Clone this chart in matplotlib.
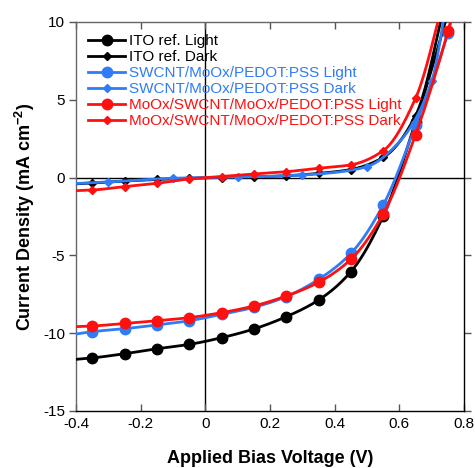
import numpy as np
import matplotlib
matplotlib.use("Agg")
import matplotlib.pyplot as plt

plt.rcParams['font.family'] = ['Liberation Sans', 'DejaVu Sans']
plt.rcParams['mathtext.fontset'] = 'custom'
plt.rcParams['mathtext.rm'] = 'Liberation Sans'
plt.rcParams['mathtext.bf'] = 'Liberation Sans:bold'

# ---- data (voltage in V, current density in mA/cm^2) ----
ito_light_v = [-0.40, -0.35, -0.25, -0.15, -0.05, 0.05, 0.15, 0.25, 0.35, 0.45, 0.55, 0.65, 0.75, 0.80]
ito_light_j = [-11.68, -11.59, -11.32, -11.00, -10.72, -10.29, -9.73, -8.94, -7.87, -6.05, -2.47, 3.6, 10.6, 14.5]
ito_light_mk = [1, 2, 3, 4, 5, 6, 7, 8, 9, 10, 11, 12]

ito_dark_v = [-0.40, -0.35, -0.25, -0.15, -0.05, 0.05, 0.15, 0.25, 0.35, 0.45, 0.55, 0.65, 0.75]
ito_dark_j = [-0.40, -0.35, -0.22, -0.12, -0.04, 0.00, 0.05, 0.12, 0.27, 0.52, 1.30, 3.98, 12.0]
ito_dark_mk = [1, 2, 3, 4, 5, 6, 7, 8, 9, 10, 11, 12]

sw_light_v = [-0.40, -0.35, -0.25, -0.15, -0.05, 0.05, 0.15, 0.25, 0.35, 0.45, 0.55, 0.65, 0.75, 0.80]
sw_light_j = [-10.05, -9.90, -9.71, -9.47, -9.20, -8.79, -8.34, -7.65, -6.54, -4.87, -1.76, 3.36, 9.3, 13.5]
sw_light_mk = [1, 2, 3, 4, 5, 6, 7, 8, 9, 10, 11, 12]

sw_dark_v = [-0.40, -0.30, -0.20, -0.10, 0.00, 0.10, 0.20, 0.30, 0.40, 0.50, 0.60, 0.70, 0.75]
sw_dark_j = [-0.38, -0.28, -0.15, -0.04, 0.00, 0.03, 0.08, 0.17, 0.33, 0.71, 2.3, 6.2, 11.8]
sw_dark_mk = [1, 3, 5, 7, 9, 11]

mo_light_v = [-0.40, -0.35, -0.25, -0.15, -0.05, 0.05, 0.15, 0.25, 0.35, 0.45, 0.55, 0.65, 0.75, 0.80]
mo_light_j = [-9.58, -9.54, -9.37, -9.20, -9.00, -8.68, -8.25, -7.61, -6.73, -5.25, -2.34, 2.76, 9.4, 13.5]
mo_light_mk = [1, 2, 3, 4, 5, 6, 7, 8, 9, 10, 11, 12]

mo_dark_v = [-0.40, -0.35, -0.25, -0.15, -0.05, 0.05, 0.15, 0.25, 0.35, 0.45, 0.55, 0.65, 0.75]
mo_dark_j = [-0.84, -0.80, -0.58, -0.37, -0.09, 0.07, 0.24, 0.38, 0.60, 0.82, 1.73, 5.10, 12.5]
mo_dark_mk = [1, 2, 3, 4, 5, 6, 7, 8, 9, 10, 11, 12]

labels = ["ITO ref. Light", "ITO ref. Dark",
          "SWCNT/MoOx/PEDOT:PSS Light", "SWCNT/MoOx/PEDOT:PSS Dark",
          "MoOx/SWCNT/MoOx/PEDOT:PSS Light", "MoOx/SWCNT/MoOx/PEDOT:PSS Dark"]

BLACK = '#000000'
BLUE = '#2f7cf6'
RED = '#ff1010'


def pchip(x, y, n=20):
    x = np.asarray(x, float)
    y = np.asarray(y, float)
    h = np.diff(x)
    d = np.diff(y) / h
    m = np.zeros_like(y)
    for k in range(1, len(x) - 1):
        if d[k - 1] * d[k] > 0:
            w1 = 2 * h[k] + h[k - 1]
            w2 = h[k] + 2 * h[k - 1]
            m[k] = (w1 + w2) / (w1 / d[k - 1] + w2 / d[k])
        else:
            m[k] = 0.0
    m[0] = d[0]
    m[-1] = d[-1]
    xs, ys = [], []
    for k in range(len(x) - 1):
        t = np.linspace(0, 1, n, endpoint=False)
        h00 = 2 * t**3 - 3 * t**2 + 1
        h10 = t**3 - 2 * t**2 + t
        h01 = -2 * t**3 + 3 * t**2
        h11 = t**3 - t**2
        xs.append(x[k] + t * h[k])
        ys.append(h00 * y[k] + h10 * h[k] * m[k] + h01 * y[k + 1] + h11 * h[k] * m[k + 1])
    xs.append([x[-1]])
    ys.append([y[-1]])
    return np.concatenate(xs), np.concatenate(ys)


fig = plt.figure(figsize=(4.75, 4.68), dpi=100)
ax = fig.add_axes([0.16, 0.1218, 0.817, 0.8312])

ax.axhline(0, color='black', lw=1.0, zorder=1)
ax.axvline(0, color='black', lw=1.0, zorder=1)

series = [
    (ito_light_v, ito_light_j, ito_light_mk, BLACK, 'o', 7.5),
    (ito_dark_v, ito_dark_j, ito_dark_mk, BLACK, 'D', 4.5),
    (sw_light_v, sw_light_j, sw_light_mk, BLUE, 'o', 7.5),
    (sw_dark_v, sw_dark_j, sw_dark_mk, BLUE, 'D', 4.5),
    (mo_light_v, mo_light_j, mo_light_mk, RED, 'o', 7.5),
    (mo_dark_v, mo_dark_j, mo_dark_mk, RED, 'D', 4.5),
]
N = 20
for (v, j, mk, c, m, ms), lab in zip(series, labels):
    xs, ys = pchip(v, j, N)
    ax.plot(xs, ys, color=c, lw=2.0, marker=m, markersize=ms,
            markevery=[i * N for i in mk], label=lab, zorder=3)

ax.set_xlim(-0.4, 0.8)
ax.set_ylim(-15, 10)
ax.set_xticks([-0.4, -0.2, 0, 0.2, 0.4, 0.6, 0.8])
ax.set_xticklabels(['-0.4', '-0.2', '0', '0.2', '0.4', '0.6', '0.8'])
ax.set_yticks([-15, -10, -5, 0, 5, 10])
ax.set_yticklabels(['-15', '-10', '-5', '0', '5', '10'])
ax.tick_params(axis='both', labelsize=11, width=1, color='#555555')
ax.tick_params(axis='x', direction='in', length=5, top=True, pad=4)
ax.tick_params(axis='y', direction='out', length=5, right=True, pad=3)
for s in ax.spines.values():
    s.set_linewidth(1.0)
ax.spines['left'].set_color('#666666')
ax.spines['top'].set_color('#666666')

ax.set_xlabel('Applied Bias Voltage (V)', fontsize=13, fontweight='bold', labelpad=14)
ax.set_ylabel(r'Current Density (mA cm$^{\mathbf{-2}}$)', fontsize=13,
              fontweight='bold', labelpad=4)

leg = ax.legend(loc='upper left', frameon=False, fontsize=11, handlelength=2.4,
                handletextpad=0.3, labelspacing=0.13, borderaxespad=0.4,
                bbox_to_anchor=(0.0, 1.0))
for txt, (v, j, mk, c, m, ms) in zip(leg.get_texts(), series):
    txt.set_color(c)

fig.savefig('out.png', dpi=100)
